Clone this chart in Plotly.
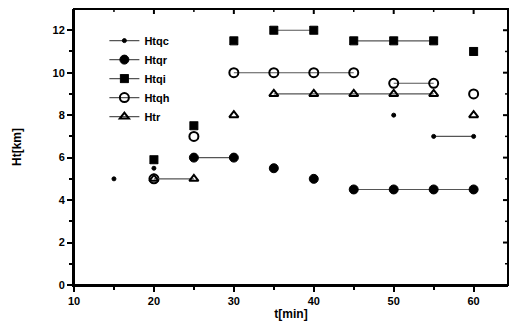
import plotly.graph_objects as go

t = [15, 20, 25, 30, 35, 40, 45, 50, 55, 60]
htqc = [5.0, 5.5, None, None, None, None, None, 8.0, 7.0, 7.0]
htqr = [None, None, 6.0, 6.0, 5.5, 5.0, 4.5, 4.5, 4.5, 4.5]
htqi = [None, 5.9, 7.5, 11.5, 12.0, 12.0, 11.5, 11.5, 11.5, 11.0]
htqh = [None, 5.0, 7.0, 10.0, 10.0, 10.0, 10.0, 9.5, 9.5, 9.0]
htr = [None, 5.0, 5.0, 8.0, 9.0, 9.0, 9.0, 9.0, 9.0, 8.0]

names = ["Htqc", "Htqr", "Htqi", "Htqh", "Htr"]
series = [htqc, htqr, htqi, htqh, htr]
symbols = ["circle", "circle", "square-x", "circle-open", "triangle-up-open"]
sizes = [4, 9, 8, 9, 8]

x_major = [10, 20, 30, 40, 50, 60]
x_minor = [15, 25, 35, 45, 55]
y_major = [0, 2, 4, 6, 8, 10, 12]
y_minor = [1, 3, 5, 7, 9, 11]


def segmented(xs, ys):
    # lines only join consecutive points of equal value
    ox, oy = [], []
    prev = None
    for x, y in zip(xs, ys):
        if y is None:
            prev = None
            continue
        if ox and (prev is None or prev != y):
            ox.append(x)
            oy.append(None)
        ox.append(x)
        oy.append(y)
        prev = y
    return ox, oy


fig = go.Figure()
for name, ys, sym, sz in zip(names, series, symbols, sizes):
    sx, sy = segmented(t, ys)
    fig.add_trace(go.Scatter(
        x=sx, y=sy, name=name, mode="lines+markers",
        connectgaps=False,
        line=dict(color="#555555", width=1.1),
        marker=dict(symbol=sym, size=sz, color="black",
                    line=dict(color="black", width=2 if "open" in sym else 1)),
    ))

font = dict(family="Liberation Sans", size=11, color="black", weight="bold")
xr = [10, 64.3]
yr = [0, 13]

# frame
fig.add_shape(type="rect", xref="paper", yref="paper", x0=0, y0=0, x1=1, y1=1,
              line=dict(color="black", width=2), layer="above")

fig.update_layout(
    width=512, height=333,
    margin=dict(l=74, r=4, t=9, b=48),
    paper_bgcolor="white", plot_bgcolor="white",
    font=font,
    showlegend=True,
    legend=dict(x=0.07, y=0.938, xanchor="left", yanchor="top",
                bgcolor="rgba(0,0,0,0)", font=dict(size=11, weight="bold"),
                tracegroupgap=0, itemwidth=30),
    xaxis=dict(range=xr, tickmode="array", tickvals=x_major,
               ticks="outside", ticklen=5, tickwidth=2, tickcolor="black",
               minor=dict(tickvals=x_minor, ticks="outside",
                          ticklen=3, tickwidth=1.5, tickcolor="black"),
               showline=True, linewidth=2, linecolor="black",
               showgrid=False, zeroline=False,
               title=dict(text="t[min]", font=dict(size=12, weight="bold"), standoff=3),
               tickfont=font),
    yaxis=dict(range=yr, tickmode="array", tickvals=y_major,
               ticks="outside", ticklen=5, tickwidth=2, tickcolor="black",
               minor=dict(tickvals=y_minor, ticks="outside",
                          ticklen=3, tickwidth=1.5, tickcolor="black"),
               showline=True, linewidth=2, linecolor="black",
               showgrid=False, zeroline=False,
               title=dict(text="Ht[km]", font=dict(size=12, weight="bold"), standoff=28),
               tickfont=font),
)

# inside ticks on top and right edges
for xv in x_major + x_minor:
    ln = 5 if xv in x_major else 3
    fig.add_shape(type="line", xref="x", yref="paper", x0=xv, x1=xv, y0=1, y1=1 - ln / 276,
                  line=dict(color="black", width=2 if ln == 5 else 1.5))
for yv in y_major + y_minor:
    ln = 5 if yv in y_major else 3
    fig.add_shape(type="line", xref="paper", yref="y", x0=1, x1=1 - ln / 434, y0=yv, y1=yv,
                  line=dict(color="black", width=2 if ln == 5 else 1.5))

fig.write_html("out.html", config={"displayModeBar": False},
               post_script="document.body.style.margin='0';document.body.style.overflow='hidden';")
